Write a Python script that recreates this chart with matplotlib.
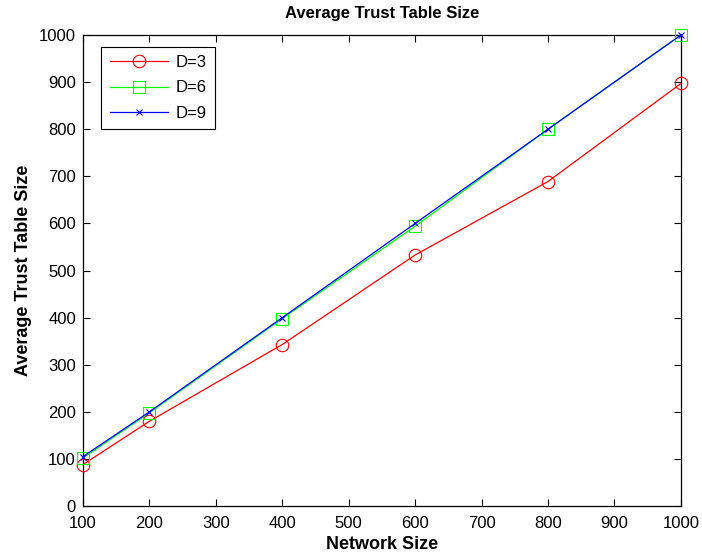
import matplotlib
matplotlib.use("Agg")
import matplotlib.pyplot as plt

network_size = [100, 200, 400, 600, 800, 1000]
d3 = [88, 180, 343, 533, 689, 897]
d6 = [102, 198, 398, 594, 800, 1000]
d9 = [105, 200, 400, 600, 800, 1000]
x_ticks = [100, 200, 300, 400, 500, 600, 700, 800, 900, 1000]
y_ticks = [0, 100, 200, 300, 400, 500, 600, 700, 800, 900, 1000]

plt.rcParams['font.family'] = ['Liberation Sans', 'DejaVu Sans']
fig = plt.figure(figsize=(7.02, 5.55), dpi=100)
ax = fig.add_axes([0.118, 0.088, 0.852, 0.849])

ax.plot(network_size, d3, color='red', marker='o', markersize=9, markerfacecolor='none',
        markeredgewidth=0.8, linewidth=0.9, label='D=3', clip_on=False, zorder=3)
ax.plot(network_size, d6, color='#00ff00', marker='s', markersize=9, markerfacecolor='none',
        markeredgewidth=0.8, linewidth=0.9, label='D=6', clip_on=False, zorder=3)
ax.plot(network_size, d9, color='blue', marker='x', markersize=5, markeredgewidth=0.8,
        linewidth=0.9, label='D=9', clip_on=False, zorder=4)

ax.set_xlim(100, 1000)
ax.set_ylim(0, 1000)
ax.set_xticks(x_ticks)
ax.set_yticks(y_ticks)
ax.tick_params(direction='in', top=True, right=True, labelsize=12, length=5, width=0.8)
ax.tick_params(axis='x', pad=7)
ax.tick_params(axis='y', pad=5)
for s in ax.spines.values():
    s.set_linewidth(0.9)

ax.set_title('Average Trust Table Size', fontsize=12, fontweight='bold', pad=12)
ax.set_xlabel('Network Size', fontsize=13, fontweight='bold', labelpad=4)
ax.set_ylabel('Average Trust Table Size', fontsize=13, fontweight='bold', labelpad=5)

leg = ax.legend(loc='upper left', bbox_to_anchor=(0.031, 0.975), fontsize=12, fancybox=False,
                edgecolor='black', framealpha=1, handlelength=3.5, handletextpad=0.45,
                borderpad=0.5, labelspacing=0.62, borderaxespad=0)
leg.get_frame().set_linewidth(0.8)

fig.savefig('out.png', dpi=100)
